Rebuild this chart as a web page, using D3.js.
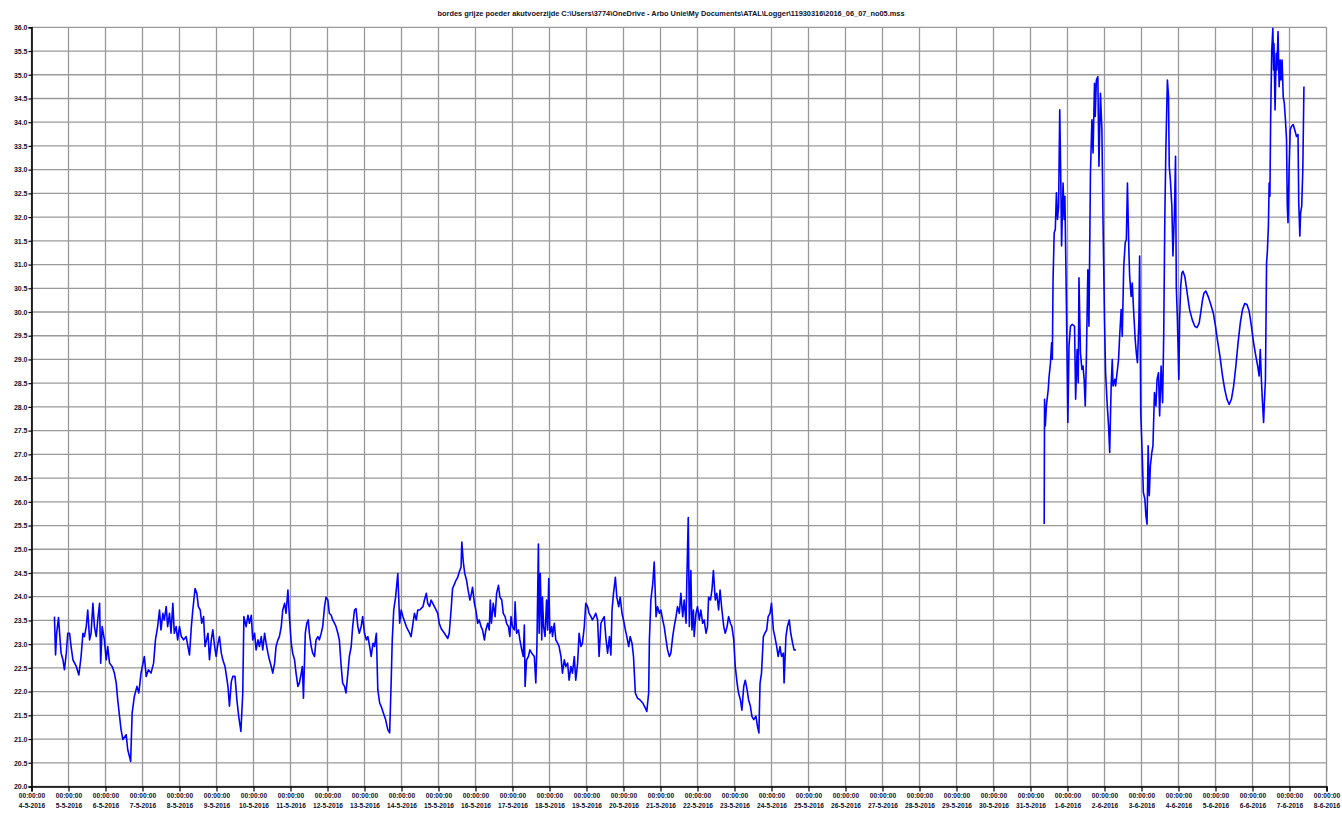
<!DOCTYPE html>
<html>
<head>
<meta charset="utf-8">
<script src="https://d3js.org/d3.v7.min.js"></script>
<style>
  body { margin: 0; background: #fff; }
  svg text { font-family: "Liberation Sans", Arial, sans-serif; fill: #10102a; }
</style>
</head>
<body>
<svg id="chart" width="1342" height="815"></svg>
<script>
// title as printed by the logger software
const chartTitle = "bordes grijze poeder akutvoerzijde   C:\\Users\\3774\\OneDrive - Arbo Unie\\My Documents\\ATAL\\Logger\\11930316\\2016_06_07_no05.mss";

// axis range
const xStart = new Date(2016, 4, 4);   // 4-5-2016 00:00:00
const xEnd = new Date(2016, 5, 8);     // 8-6-2016 00:00:00
const yMin = 20.0, yMax = 36.0, yStep = 0.5;

// [days since 4-5-2016 00:00, temperature]
const logPart1 = [
  [0.62,23.58],[0.65,22.77],[0.68,23.23],[0.73,23.56],[0.76,23.23],[0.80,22.81],[0.85,22.67],[0.89,22.46],
  [0.94,22.81],[0.98,23.23],[1.03,23.23],[1.07,22.95],[1.12,22.67],[1.21,22.53],[1.28,22.35],[1.34,22.74],
  [1.39,23.23],[1.43,23.16],[1.48,23.37],[1.52,23.72],[1.57,23.09],[1.61,23.23],[1.66,23.86],[1.70,23.37],
  [1.75,23.16],[1.79,23.51],[1.84,23.86],[1.87,22.60],[1.91,23.37],[1.97,23.09],[2.02,22.67],[2.06,22.95],
  [2.11,22.60],[2.18,22.53],[2.24,22.39],[2.29,22.18],[2.33,21.83],[2.38,21.48],[2.42,21.20],[2.47,20.99],
  [2.56,21.09],[2.60,20.78],[2.68,20.53],[2.72,21.55],[2.78,21.90],[2.85,22.11],[2.90,21.97],[2.96,22.39],
  [3.05,22.74],[3.10,22.32],[3.16,22.46],[3.23,22.39],[3.30,22.60],[3.35,23.09],[3.41,23.37],[3.46,23.72],
  [3.50,23.30],[3.55,23.65],[3.59,23.51],[3.64,23.79],[3.68,23.37],[3.73,23.65],[3.77,23.23],[3.82,23.86],
  [3.86,23.23],[3.91,23.37],[3.95,23.09],[4.00,23.37],[4.05,23.16],[4.11,23.09],[4.18,23.16],[4.27,22.77],
  [4.32,23.37],[4.36,23.72],[4.42,24.17],[4.47,24.07],[4.51,23.79],[4.56,23.72],[4.60,23.44],[4.65,23.58],
  [4.69,22.95],[4.77,23.23],[4.81,22.67],[4.86,23.09],[4.90,23.30],[4.95,22.95],[4.99,22.74],[5.04,23.02],
  [5.08,23.16],[5.13,22.81],[5.17,22.67],[5.23,22.53],[5.31,22.11],[5.35,21.69],[5.40,22.21],[5.44,22.32],
  [5.50,22.32],[5.55,21.83],[5.60,21.48],[5.66,21.16],[5.71,21.97],[5.74,23.58],[5.80,23.37],[5.85,23.61],
  [5.89,23.44],[5.94,23.61],[5.98,23.09],[6.03,23.23],[6.07,22.88],[6.12,23.09],[6.16,22.95],[6.21,23.16],
  [6.25,22.88],[6.30,23.23],[6.34,23.02],[6.39,22.81],[6.43,22.67],[6.48,22.53],[6.52,22.39],[6.57,22.60],
  [6.61,22.95],[6.66,23.09],[6.70,23.16],[6.75,23.37],[6.79,23.72],[6.84,23.86],[6.88,23.65],[6.93,24.14],
  [6.97,23.58],[7.02,23.02],[7.06,22.81],[7.11,22.67],[7.15,22.39],[7.20,22.11],[7.24,22.18],[7.29,22.39],
  [7.32,22.53],[7.35,21.86],[7.40,23.23],[7.44,23.44],[7.48,23.51],[7.51,23.23],[7.56,22.95],[7.60,22.81],
  [7.65,22.74],[7.69,23.09],[7.74,23.16],[7.78,23.09],[7.83,23.23],[7.87,23.37],[7.92,23.79],[7.96,23.99],
  [8.01,23.93],[8.05,23.65],[8.10,23.61],[8.14,23.51],[8.19,23.44],[8.23,23.37],[8.28,23.23],[8.32,23.09],
  [8.37,22.53],[8.41,22.18],[8.46,22.11],[8.50,21.97],[8.55,22.39],[8.59,22.74],[8.64,22.95],[8.68,23.37],
  [8.73,23.72],[8.77,23.75],[8.82,23.37],[8.86,23.23],[8.91,23.37],[8.95,23.58],[9.00,23.23],[9.05,23.09],
  [9.09,23.16],[9.14,22.95],[9.18,22.74],[9.23,23.02],[9.27,22.95],[9.32,23.23],[9.36,22.04],[9.41,21.76],
  [9.45,21.69],[9.51,21.55],[9.57,21.41],[9.63,21.20],[9.68,21.13],[9.72,22.18],[9.75,23.09],[9.79,23.72],
  [9.84,23.99],[9.90,24.49],[9.95,23.44],[9.99,23.72],[10.04,23.58],[10.13,23.37],[10.22,23.23],[10.26,23.16],
  [10.31,23.44],[10.35,23.65],[10.40,23.51],[10.44,23.72],[10.49,23.72],[10.58,23.79],[10.62,23.93],[10.67,24.07],
  [10.71,23.86],[10.76,23.79],[10.80,23.93],[10.89,23.79],[10.98,23.65],[11.02,23.44],[11.07,23.33],[11.16,23.23],
  [11.25,23.12],[11.29,23.23],[11.34,23.72],[11.38,24.17],[11.47,24.34],[11.52,24.41],[11.56,24.52],[11.61,24.62],
  [11.63,25.15],[11.67,24.73],[11.71,24.49],[11.76,24.34],[11.80,24.14],[11.85,23.93],[11.89,24.07],[11.92,24.20],
  [11.97,23.86],[12.01,23.72],[12.06,23.44],[12.10,23.51],[12.15,23.37],[12.19,23.30],[12.24,23.09],[12.28,23.30],
  [12.33,23.44],[12.37,23.30],[12.40,23.93],[12.43,23.44],[12.48,23.86],[12.53,23.58],[12.57,24.07],[12.62,24.24],
  [12.66,23.99],[12.71,23.93],[12.75,23.65],[12.80,23.58],[12.84,23.44],[12.89,23.37],[12.93,23.16],[12.96,23.58],
  [13.00,23.37],[13.05,23.30],[13.07,23.89],[13.11,23.23],[13.16,23.30],[13.20,23.09],[13.25,22.88],[13.29,22.74],
  [13.32,23.40],[13.34,22.11],[13.38,22.67],[13.43,22.74],[13.47,22.88],[13.52,22.81],[13.59,22.74],[13.63,22.18],
  [13.66,22.95],[13.70,25.11],[13.72,23.23],[13.75,24.49],[13.79,23.09],[13.81,23.99],[13.84,23.37],[13.88,23.16],
  [13.92,23.93],[13.95,23.30],[13.98,24.38],[14.01,23.23],[14.06,23.37],[14.08,23.16],[14.13,23.44],[14.17,23.09],
  [14.22,23.02],[14.26,22.95],[14.31,22.74],[14.35,22.39],[14.40,22.67],[14.44,22.53],[14.49,22.60],[14.53,22.24],
  [14.58,22.53],[14.62,22.39],[14.67,22.74],[14.71,22.24],[14.76,22.60],[14.80,23.23],[14.85,22.95],[14.89,23.02],
  [14.94,23.37],[14.98,23.86],[15.03,23.79],[15.07,23.65],[15.12,23.58],[15.16,23.51],[15.21,23.58],[15.25,23.65],
  [15.30,23.51],[15.34,22.74],[15.39,23.44],[15.43,23.51],[15.48,23.58],[15.52,23.16],[15.57,22.81],[15.62,23.16],
  [15.66,22.77],[15.69,23.72],[15.73,24.07],[15.78,24.41],[15.82,23.99],[15.87,23.79],[15.91,23.99],[15.96,23.65],
  [16.00,23.51],[16.05,23.30],[16.09,23.16],[16.14,22.95],[16.18,23.16],[16.23,23.02],[16.27,22.74],[16.32,21.97],
  [16.38,21.86],[16.44,21.83],[16.52,21.76],[16.59,21.65],[16.63,21.58],[16.68,21.97],[16.70,23.09],[16.74,23.93],
  [16.79,24.27],[16.83,24.73],[16.88,23.58],[16.92,23.79],[16.97,23.65],[17.01,23.72],[17.06,23.51],[17.10,23.37],
  [17.15,23.09],[17.19,22.88],[17.24,22.74],[17.28,22.81],[17.33,23.16],[17.37,23.37],[17.42,23.58],[17.46,23.79],
  [17.51,23.65],[17.55,24.07],[17.60,23.58],[17.64,23.93],[17.69,23.44],[17.71,24.27],[17.75,25.67],[17.78,23.37],
  [17.82,24.55],[17.85,23.30],[17.89,23.72],[17.91,23.16],[17.96,23.65],[18.00,23.79],[18.05,23.51],[18.09,23.72],
  [18.14,23.44],[18.18,23.51],[18.23,23.23],[18.27,23.37],[18.30,23.99],[18.35,23.93],[18.39,24.14],[18.43,24.55],
  [18.48,23.93],[18.52,24.07],[18.57,23.72],[18.61,24.14],[18.66,23.72],[18.71,23.37],[18.75,23.23],[18.80,23.37],
  [18.84,23.58],[18.89,23.44],[18.93,23.37],[18.98,23.09],[19.02,22.53],[19.07,22.18],[19.11,21.97],[19.16,21.83],
  [19.20,21.61],[19.25,22.11],[19.29,22.24],[19.34,22.04],[19.38,21.83],[19.43,21.69],[19.47,21.48],[19.52,21.41],
  [19.58,21.48],[19.62,21.27],[19.66,21.13],[19.69,22.18],[19.73,22.39],[19.78,23.16],[19.82,23.23],[19.87,23.30],
  [19.91,23.58],[19.96,23.65],[20.00,23.86],[20.05,23.30],[20.09,23.16],[20.14,22.95],[20.18,22.74],[20.23,22.95],
  [20.27,22.74],[20.32,22.81],[20.34,22.18],[20.39,23.16],[20.43,23.37],[20.48,23.51],[20.52,23.23],[20.57,23.02],
  [20.61,22.88],[20.66,22.88]
];

const logPart2 = [
  [27.37,25.53],[27.38,28.16],[27.40,27.60],[27.43,28.02],[27.48,28.37],[27.50,28.62],[27.54,28.93],[27.57,29.35],
  [27.59,29.00],[27.61,30.68],[27.64,31.67],[27.67,31.74],[27.70,32.51],[27.73,31.95],[27.76,32.23],[27.79,34.26],
  [27.82,32.72],[27.84,31.39],[27.88,32.72],[27.91,31.95],[27.93,32.44],[27.97,30.19],[28.01,27.67],[28.04,29.28],
  [28.08,29.70],[28.13,29.74],[28.19,29.70],[28.22,28.16],[28.26,29.21],[28.29,28.51],[28.31,30.72],[28.35,29.14],
  [28.39,28.79],[28.42,28.86],[28.45,28.58],[28.48,28.02],[28.51,29.00],[28.55,30.89],[28.58,29.70],[28.62,32.93],
  [28.66,34.05],[28.69,33.35],[28.73,34.82],[28.75,34.12],[28.78,34.89],[28.82,34.96],[28.85,33.07],[28.89,34.61],
  [28.93,33.84],[28.96,31.95],[29.00,29.84],[29.03,28.72],[29.07,28.09],[29.11,27.60],[29.14,27.04],[29.18,28.44],
  [29.21,29.00],[29.23,28.44],[29.28,28.58],[29.30,28.44],[29.34,28.72],[29.38,29.00],[29.41,29.49],[29.45,30.05],
  [29.48,29.49],[29.52,30.96],[29.56,31.46],[29.59,31.53],[29.62,32.72],[29.66,31.25],[29.68,30.75],[29.72,30.33],
  [29.75,30.61],[29.79,29.98],[29.83,29.42],[29.86,29.14],[29.89,28.93],[29.93,29.84],[29.95,31.18],[29.98,27.88],
  [30.02,26.97],[30.05,26.20],[30.09,26.06],[30.12,25.70],[30.15,25.53],[30.18,27.18],[30.21,26.13],[30.24,26.76],
  [30.28,27.04],[30.31,27.18],[30.35,28.30],[30.39,28.02],[30.42,28.58],[30.46,28.72],[30.49,27.81],[30.53,28.86],
  [30.57,28.09],[30.60,29.49],[30.63,31.95],[30.66,33.49],[30.68,34.19],[30.70,34.89],[30.73,34.54],[30.75,33.07],
  [30.78,32.79],[30.82,32.23],[30.85,31.18],[30.89,32.09],[30.92,33.28],[30.94,30.54],[30.97,29.84],[31.01,28.58],
  [31.03,29.84],[31.06,30.54],[31.09,30.82],[31.12,30.86],[31.17,30.75],[31.21,30.54],[31.26,30.26],[31.30,30.05],
  [31.37,29.84],[31.44,29.70],[31.50,29.67],[31.56,29.77],[31.60,29.98],[31.65,30.26],[31.69,30.40],[31.74,30.44],
  [31.80,30.33],[31.86,30.19],[31.94,29.98],[32.00,29.70],[32.05,29.42],[32.12,29.07],[32.19,28.65],[32.25,28.37],
  [32.31,28.16],[32.37,28.05],[32.43,28.16],[32.49,28.44],[32.55,28.86],[32.61,29.35],[32.67,29.77],[32.73,30.05],
  [32.79,30.18],[32.85,30.16],[32.91,30.02],[32.97,29.70],[33.03,29.35],[33.09,29.07],[33.14,28.86],[33.18,28.65],
  [33.21,29.21],[33.24,28.58],[33.27,28.09],[33.30,27.67],[33.32,28.09],[33.35,28.58],[33.38,31.03],[33.40,31.25],
  [33.43,31.81],[33.45,32.72],[33.47,32.44],[33.49,34.05],[33.52,35.52],[33.55,35.98],[33.57,35.10],[33.58,35.66],
  [33.61,34.26],[33.64,35.45],[33.66,35.10],[33.69,35.91],[33.72,34.75],[33.75,35.31],[33.77,34.89],[33.80,35.31],
  [33.83,34.54],[33.86,34.40],[33.89,34.05],[33.92,33.63],[33.94,32.23],[33.96,31.88],[33.99,33.07],[34.02,33.84],
  [34.05,33.91],[34.10,33.95],[34.14,33.84],[34.19,33.70],[34.23,33.74],[34.25,32.30],[34.28,31.60],[34.30,32.09],
  [34.33,32.23],[34.36,33.00],[34.39,34.75]
];

var svg = d3.select("#chart");
var plotL = 31.5, plotR = 1326.5, plotT = 27.3, plotB = 786.5;

var x = d3.scaleTime().domain([xStart, xEnd]).range([plotL, plotR]);
var y = d3.scaleLinear().domain([yMin, yMax]).range([plotB, plotT]);

var days = d3.timeDay.range(xStart, d3.timeDay.offset(xEnd, 1));
var yVals = d3.range(yMin, yMax + yStep / 2, yStep);

// grid
svg.append("g").selectAll("line").data(days).enter().append("line")
  .attr("x1", d => x(d)).attr("x2", d => x(d))
  .attr("y1", plotT).attr("y2", plotB)
  .style("stroke", "#999").style("stroke-width", 1.3);
svg.append("g").selectAll("line").data(yVals).enter().append("line")
  .attr("x1", plotL).attr("x2", plotR)
  .attr("y1", d => y(d)).attr("y2", d => y(d))
  .style("stroke", "#999").style("stroke-width", 1.3);

// axes
var yAxis = svg.append("g").attr("transform", `translate(${plotL},0)`)
  .call(d3.axisLeft(y).tickValues(yVals).tickFormat(d3.format(".1f")).tickSize(3).tickPadding(1));
var xAxis = svg.append("g").attr("transform", `translate(0,${plotB})`)
  .call(d3.axisBottom(x).tickValues(days).tickFormat("").tickSize(5));
[yAxis, xAxis].forEach(a => {
  a.select(".domain").style("stroke", "#000").style("stroke-width", 1.6);
  a.selectAll(".tick line").style("stroke", "#000").style("stroke-width", 1.2);
});
yAxis.selectAll("text").style("font-size", "7px").style("font-weight", "bold").style("fill", "#10102a");

var fmtDate = d3.timeFormat("%-d-%-m-%Y");
xAxis.selectAll(".tick").each(function(d) {
  var t = d3.select(this).append("text").attr("text-anchor", "middle")
    .style("font-size", "6.6px").style("font-weight", "bold").style("fill", "#10102a");
  t.append("tspan").attr("x", 0).attr("y", 11).text(d3.timeFormat("%H:%M:%S")(d));
  t.append("tspan").attr("x", 0).attr("y", 21).text(fmtDate(d));
});

// title
svg.append("text").attr("x", 671).attr("y", 16).attr("text-anchor", "middle")
  .attr("textLength", 467).attr("lengthAdjust", "spacingAndGlyphs")
  .style("font-size", "7.5px").style("font-weight", "bold").text(chartTitle);

// data
var line = d3.line()
  .x(d => x(d3.timeMinute.offset(xStart, Math.round(d[0] * 1440))))
  .y(d => y(d[1]));
[logPart1, logPart2].forEach(part => {
  svg.append("path").datum(part).attr("d", line)
    .style("fill", "none").style("stroke", "#0000ff").style("stroke-width", 1.6)
    .style("stroke-linejoin", "round");
});
</script>
</body>
</html>
